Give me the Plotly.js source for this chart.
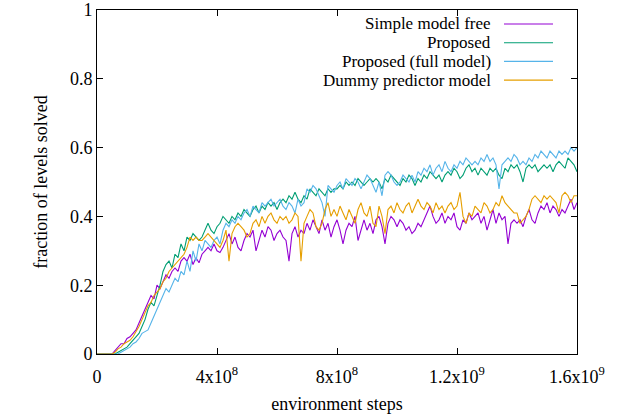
<!DOCTYPE html>
<html>
<head>
<meta charset="utf-8">
<script src="https://cdn.plot.ly/plotly-3.0.1.min.js"></script>
</head>
<body style="margin:0;background:#fff">
<div id="chart" style="width:621px;height:415px"></div>
<script>
// environment steps: one sample every 1e7 steps, 0 .. 1.6e9
const stepInterval = 1e7;

const seriesNames = ["Simple model free", "Proposed", "Proposed (full model)", "Dummy predictor model"];
const seriesColors = ["#9400d3", "#009e73", "#56b4e9", "#e69f00"];

const simpleModelFree = [
0,0,0,0,0,0,0.01,0.02,0.03,0.03,
0.045,0.05,0.06,0.07,0.09,0.11,0.13,0.155,0.17,0.16,
0.20,0.19,0.21,0.23,0.22,0.24,0.25,0.24,0.27,0.28,
0.27,0.29,0.26,0.28,0.265,0.29,0.30,0.31,0.30,0.32,
0.30,0.295,0.31,0.33,0.35,0.32,0.34,0.31,0.30,0.33,
0.35,0.34,0.36,0.30,0.33,0.36,0.34,0.37,0.36,0.33,
0.35,0.36,0.34,0.33,0.27,0.35,0.37,0.34,0.36,0.35,
0.38,0.36,0.39,0.37,0.35,0.39,0.36,0.38,0.34,0.37,
0.39,0.36,0.32,0.36,0.38,0.37,0.40,0.33,0.36,0.39,
0.36,0.38,0.35,0.39,0.40,0.37,0.32,0.38,0.40,0.39,
0.37,0.39,0.38,0.36,0.37,0.35,0.36,0.38,0.37,0.39,
0.41,0.43,0.40,0.38,0.39,0.41,0.38,0.40,0.39,0.41,
0.37,0.36,0.39,0.38,0.41,0.39,0.40,0.41,0.38,0.40,
0.36,0.39,0.42,0.38,0.41,0.39,0.40,0.32,0.38,0.39,
0.38,0.39,0.37,0.40,0.42,0.39,0.38,0.41,0.43,0.42,
0.44,0.41,0.43,0.42,0.40,0.42,0.41,0.43,0.45,0.42,
0.44];

const proposed = [
0,0,0,0,0,0,0,0.005,0.01,0.015,
0.02,0.03,0.04,0.05,0.06,0.08,0.10,0.13,0.15,0.14,
0.17,0.20,0.24,0.26,0.27,0.25,0.29,0.28,0.32,0.30,
0.34,0.33,0.35,0.34,0.33,0.34,0.36,0.38,0.36,0.35,
0.37,0.38,0.40,0.39,0.38,0.40,0.39,0.41,0.40,0.42,
0.41,0.40,0.42,0.43,0.41,0.43,0.42,0.44,0.43,0.44,
0.42,0.44,0.45,0.44,0.46,0.45,0.47,0.45,0.44,0.46,
0.45,0.48,0.47,0.46,0.48,0.47,0.46,0.48,0.47,0.48,
0.48,0.49,0.48,0.50,0.49,0.50,0.49,0.51,0.50,0.49,
0.50,0.51,0.50,0.51,0.50,0.48,0.51,0.50,0.52,0.51,
0.50,0.49,0.51,0.50,0.52,0.51,0.49,0.51,0.50,0.52,
0.51,0.53,0.52,0.51,0.52,0.50,0.52,0.53,0.52,0.54,
0.53,0.51,0.52,0.54,0.55,0.53,0.54,0.52,0.54,0.53,
0.52,0.54,0.53,0.54,0.52,0.51,0.54,0.53,0.55,0.54,
0.55,0.53,0.50,0.54,0.55,0.54,0.55,0.53,0.54,0.55,
0.54,0.55,0.53,0.55,0.56,0.55,0.54,0.57,0.56,0.55,
0.53];

const proposedFull = [
0,0,0,0,0,0,0,0,0.005,0.01,
0.015,0.02,0.03,0.035,0.045,0.06,0.065,0.07,0.09,0.11,
0.13,0.15,0.17,0.19,0.18,0.20,0.22,0.21,0.24,0.23,
0.27,0.24,0.30,0.27,0.32,0.30,0.33,0.32,0.31,0.33,
0.34,0.32,0.36,0.38,0.37,0.39,0.38,0.40,0.39,0.41,
0.42,0.40,0.43,0.42,0.41,0.44,0.43,0.44,0.45,0.43,
0.44,0.45,0.43,0.42,0.44,0.43,0.41,0.45,0.43,0.44,
0.48,0.47,0.49,0.48,0.46,0.44,0.40,0.49,0.48,0.47,
0.49,0.50,0.48,0.51,0.50,0.49,0.51,0.50,0.48,0.50,
0.52,0.51,0.49,0.47,0.50,0.46,0.52,0.53,0.52,0.50,
0.49,0.50,0.52,0.51,0.50,0.52,0.50,0.53,0.52,0.54,
0.53,0.55,0.52,0.54,0.55,0.53,0.56,0.54,0.53,0.55,
0.54,0.56,0.55,0.57,0.56,0.55,0.56,0.55,0.57,0.56,
0.58,0.56,0.57,0.55,0.48,0.55,0.56,0.57,0.56,0.58,
0.57,0.55,0.56,0.55,0.57,0.56,0.58,0.57,0.59,0.58,
0.57,0.59,0.58,0.57,0.59,0.58,0.59,0.58,0.60,0.59,
0.60];

const dummyPredictor = [
0,0,0,0,0,0,0.005,0.015,0.02,0.03,
0.035,0.04,0.05,0.065,0.08,0.10,0.12,0.14,0.15,0.17,
0.18,0.19,0.21,0.22,0.24,0.25,0.26,0.27,0.28,0.29,
0.31,0.34,0.33,0.34,0.33,0.33,0.34,0.35,0.34,0.33,
0.32,0.31,0.33,0.36,0.27,0.35,0.37,0.38,0.37,0.36,
0.34,0.35,0.38,0.39,0.37,0.40,0.38,0.40,0.41,0.39,
0.38,0.40,0.39,0.40,0.38,0.39,0.41,0.40,0.27,0.38,
0.40,0.42,0.41,0.37,0.36,0.38,0.42,0.44,0.40,0.42,
0.40,0.43,0.41,0.39,0.42,0.40,0.38,0.42,0.44,0.41,
0.40,0.43,0.38,0.37,0.43,0.40,0.35,0.42,0.43,0.41,
0.44,0.42,0.41,0.43,0.44,0.41,0.43,0.45,0.43,0.42,
0.44,0.43,0.41,0.44,0.42,0.43,0.41,0.43,0.44,0.42,
0.43,0.47,0.40,0.38,0.41,0.40,0.43,0.42,0.41,0.44,
0.43,0.41,0.42,0.44,0.43,0.46,0.44,0.43,0.42,0.41,
0.41,0.38,0.39,0.40,0.42,0.45,0.46,0.45,0.44,0.46,
0.45,0.46,0.45,0.44,0.41,0.46,0.47,0.46,0.44,0.46,
0.46];

const xTickVals = [0, 4e8, 8e8, 1.2e9, 1.6e9];
const xTickText = ["0", "4x10<sup>8</sup>", "8x10<sup>8</sup>", "1.2x10<sup>9</sup>", "1.6x10<sup>9</sup>"];
const yTickVals = [0, 0.2, 0.4, 0.6, 0.8, 1];
const yTickText = ["0", "0.2", "0.4", "0.6", "0.8", "1"];

const allSeries = [simpleModelFree, proposed, proposedFull, dummyPredictor];
const steps = simpleModelFree.map((_, i) => i * stepInterval);

const traces = allSeries.map((vals, k) => ({
  x: steps, y: vals, type: "scatter", mode: "lines", name: seriesNames[k],
  line: {color: seriesColors[k], width: 1.1}, showlegend: false, hoverinfo: "skip"
}));

const SERIF = "Liberation Serif";
const FS = 18;
function serifFont(size) { return {family: SERIF, size: size, color: "#000000"}; }

// legend drawn gnuplot-style: right-aligned text, sample line to its right
const annotations = [];
const shapes = [];
seriesNames.forEach((n, k) => {
  const yPx = 24 + k * 18.7;
  const yPaper = 1 - (yPx - 10) / 344;
  annotations.push({xref: "paper", yref: "paper", x: (493 - 97) / 480, y: yPaper,
    xanchor: "right", yanchor: "middle", text: n, showarrow: false,
    font: serifFont(17)});
  shapes.push({type: "line", xref: "paper", yref: "paper",
    x0: (504 - 97) / 480, x1: (553 - 97) / 480, y0: yPaper, y1: yPaper,
    line: {color: seriesColors[k], width: 1.1}});
});

function axisBase() {
  return {
    showline: true, linecolor: "#000000", linewidth: 1, mirror: "allticks",
    ticks: "inside", ticklen: 6, tickcolor: "#000000", tickwidth: 1,
    showgrid: false, zeroline: false, fixedrange: true,
    tickfont: serifFont(FS)
  };
}

const xaxis = axisBase();
xaxis.range = [0, 1.6e9];
xaxis.tickmode = "array";
xaxis.tickvals = xTickVals;
xaxis.ticktext = xTickText;
xaxis.ticklabelstandoff = 6;
xaxis.title = {text: "environment steps", standoff: 11, font: serifFont(FS)};

const yaxis = axisBase();
yaxis.range = [0, 1];
yaxis.tickmode = "array";
yaxis.tickvals = yTickVals;
yaxis.ticktext = yTickText;
yaxis.title = {text: "fraction of levels solved", standoff: 17, font: serifFont(FS)};

const layout = {
  width: 621, height: 415,
  margin: {l: 97, r: 44, t: 10, b: 61},
  paper_bgcolor: "#ffffff", plot_bgcolor: "#ffffff",
  font: serifFont(FS),
  xaxis: xaxis,
  yaxis: yaxis,
  annotations: annotations,
  shapes: shapes,
  showlegend: false
};

function draw() {
  Plotly.newPlot("chart", traces, layout, {displayModeBar: false});
}
if (document.fonts && document.fonts.load) {
  document.fonts.load(FS + 'px "' + SERIF + '"').then(draw, draw);
} else {
  draw();
}
</script>
</body>
</html>
